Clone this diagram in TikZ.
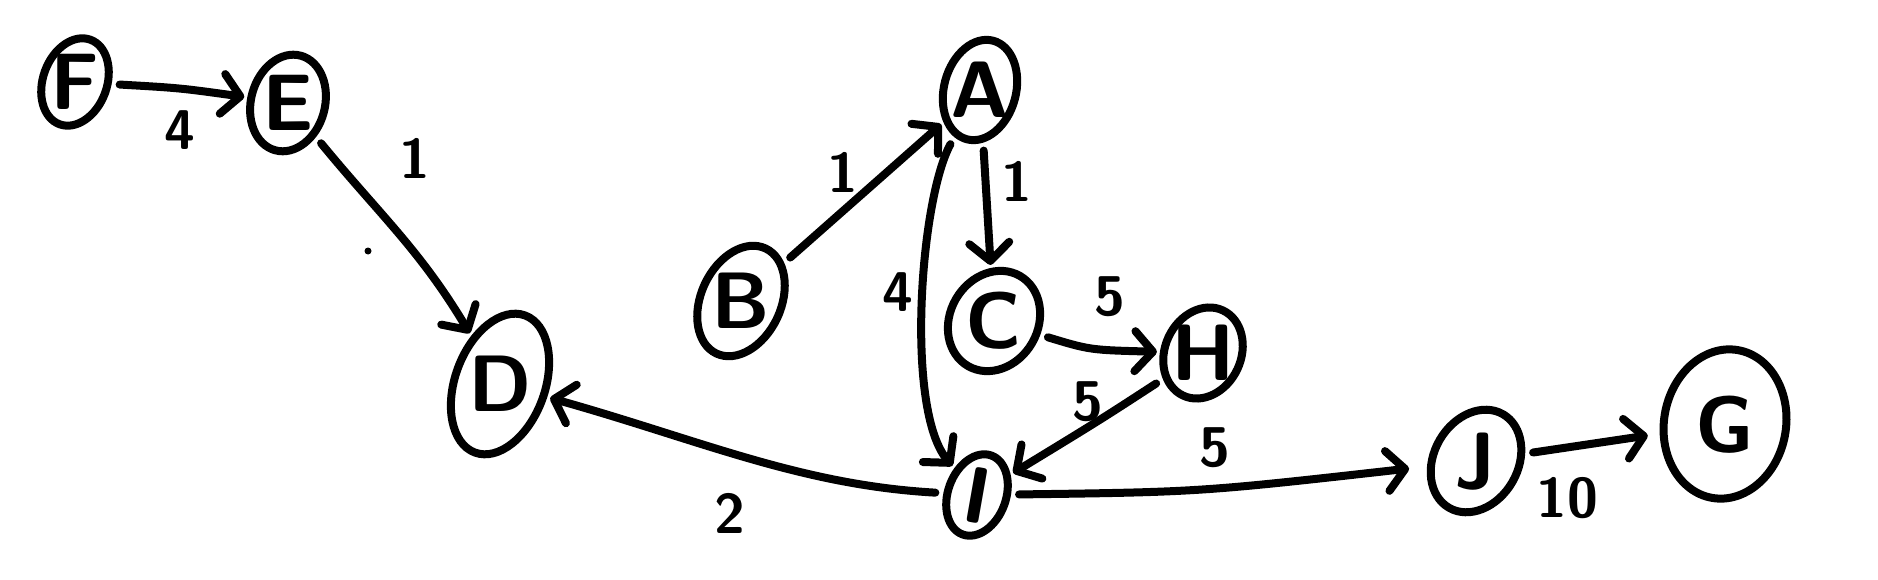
\documentclass[tikz,border=0pt]{standalone}
\usetikzlibrary{arrows.meta,shapes.geometric}
\tikzset{
 vtx/.style={ellipse, draw, line width=8pt, inner sep=0pt, font=\sffamily\bfseries\fontsize{80}{80}\selectfont},
 arr/.style={line width=8pt, line cap=round, -{Straight Barb[length=18pt,width=40pt,line cap=round,line join=round]}, shorten >=3pt, shorten <=8pt},
 wt/.style={font=\sffamily\bfseries\fontsize{56}{56}\selectfont, inner sep=0pt},
}
\newcommand\ctr[2]{\makebox[0pt]{\raisebox{-.35em}[0pt][0pt]{\makebox[0pt]{\rotatebox[origin=c]{#1}{#2}}}}}
\begin{document}
\begin{tikzpicture}[x=1pt,y=-1pt]
\useasboundingbox (0,0) rectangle (1878,580);
% vertices
\node[vtx, minimum width=64pt, minimum height=90pt, rotate=-20] (F) at (75,82) {\ctr{20}{F}};
\node[vtx, minimum width=74pt, minimum height=98pt, rotate=-15] (E) at (288,103) {\ctr{15}{E}};
\node[vtx, minimum width=72pt, minimum height=102pt, rotate=-15] (A) at (980,90) {\ctr{15}{A}};
\node[vtx, minimum width=80pt, minimum height=116pt, rotate=-25] (B) at (741,301) {\ctr{25}{B}};
\node[vtx, minimum width=88pt, minimum height=104pt, rotate=-30] (C) at (994,321) {\ctr{30}{C}};
\node[vtx, minimum width=76pt, minimum height=94pt, rotate=-25] (H) at (1203,353) {\ctr{25}{H}};
\node[vtx, minimum width=90pt, minimum height=146pt, rotate=-20] (D) at (500,384) {\ctr{20}{D}};
\node[vtx, minimum width=58pt, minimum height=84pt, rotate=-20] (I) at (977,495) {\ctr{10}{I}};
\node[vtx, minimum width=84pt, minimum height=108pt, rotate=-30] (J) at (1476,461) {\ctr{30}{J}};
\node[vtx, minimum width=122pt, minimum height=150pt, rotate=-10] (G) at (1725,424) {\ctr{10}{G}};
% edges
\draw[arr] (F) .. controls (180,88) .. (E);
\draw[arr] (E) .. controls (380,215) and (420,250) .. (D);
\draw[arr] (B) -- (A);
\draw[arr] (A) -- (C);
\draw[arr] (A) .. controls (920,200) and (905,410) .. (I);
\draw[arr] (C) .. controls (1090,350) .. (H);
\draw[arr] (H) .. controls (1100,420) .. (I);
\draw[arr] (I) .. controls (800,485) and (700,440) .. (D);
\draw[arr, shorten >=18pt] (I) .. controls (1200,492) .. (J);
\draw[arr, shorten >=12pt] (J) -- (G);
% weights
\node[wt] (w1) at (180,130) {4};
\node[wt] (w2) at (415,158) {1};
\node[wt] (w3) at (843,172) {1};
\node[wt] (w4) at (1017,181) {1};
\node[wt] (w5) at (898,292) {4};
\node[wt] (w6) at (1110,297) {5};
\node[wt] (w7) at (1088,402) {5};
\node[wt] (w8) at (1215,448) {5};
\node[wt] (w9) at (730,513) {2};
\node[wt] (w10) at (1567,498) {10};
\fill (368,251) circle (3.5pt);
\end{tikzpicture}
\end{document}
